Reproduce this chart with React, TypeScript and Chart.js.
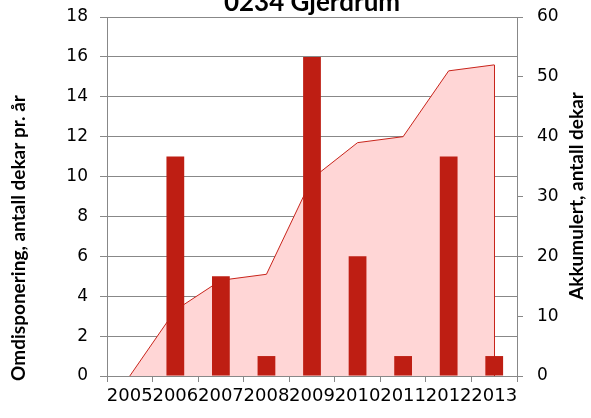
import React, { useEffect, useRef } from 'react';
import { Chart, registerables } from 'chart.js';

Chart.register(...registerables);

const categories = ['2005', '2006', '2007', '2008', '2009', '2010', '2011', '2012', '2013'];
const annualValues = [0, 11, 5, 1, 16, 6, 1, 11, 1];
const accumulatedValues = [0, 11, 16, 17, 33, 39, 40, 51, 52];
const chartTitle = '0234 Gjerdrum';
const leftAxisTitle = 'Omdisponering, antall dekar pr. år';
const rightAxisTitle = 'Akkumulert, antall dekar';

const GRID = '#888888';

const decorPlugin = {
  id: 'decor',
  afterDatasetDraw(chart: any, args: any) {
    if (args.index !== 1) return;
    const meta = chart.getDatasetMeta(1);
    const pts = meta.data;
    const last = pts[pts.length - 1];
    const y0 = chart.scales.y2.getPixelForValue(0);
    const ctx = chart.ctx;
    ctx.save();
    ctx.strokeStyle = '#C8241B';
    ctx.lineWidth = 1;
    ctx.beginPath();
    const x = Math.round(last.x) + 0.5;
    ctx.moveTo(x, last.y);
    ctx.lineTo(x, y0);
    ctx.stroke();
    ctx.restore();
  },
  afterDraw(chart: any) {
    const ctx = chart.ctx;
    const area = chart.chartArea;
    ctx.save();
    ctx.fillStyle = '#000';
    ctx.textAlign = 'center';
    ctx.textBaseline = 'alphabetic';
    ctx.font = 'bold 26px Lato';
    ctx.fillText(chartTitle, (area.left + area.right) / 2, 11);

    ctx.font = 'bold 19px Lato';
    ctx.textBaseline = 'middle';
    ctx.save();
    ctx.translate(19, 238);
    ctx.rotate(-Math.PI / 2);
    ctx.fillText(leftAxisTitle, 0, 0);
    ctx.restore();

    ctx.save();
    ctx.translate(577, 196);
    ctx.rotate(-Math.PI / 2);
    ctx.fillText(rightAxisTitle, 0, 0);
    ctx.restore();
    ctx.restore();
  },
};

export default function App() {
  const ref = useRef<HTMLCanvasElement>(null);

  useEffect(() => {
    if (!ref.current) return;
    const chart = new Chart(ref.current, {
      type: 'bar',
      data: {
        labels: categories,
        datasets: [
          {
            type: 'bar',
            data: annualValues,
            yAxisID: 'y',
            backgroundColor: '#BE1E13',
            barPercentage: 0.39,
            categoryPercentage: 1,
            order: 0,
          },
          {
            type: 'line',
            data: accumulatedValues,
            yAxisID: 'y2',
            borderColor: '#C8241B',
            borderWidth: 1,
            backgroundColor: '#FFD6D6',
            fill: 'origin',
            pointRadius: 0,
            tension: 0,
            order: 1,
          } as any,
        ],
      },
      options: {
        animation: false,
        responsive: true,
        maintainAspectRatio: false,
        layout: { padding: { top: 17, left: 0, right: 0, bottom: 0 } },
        plugins: { legend: { display: false }, tooltip: { enabled: false }, title: { display: false } },
        scales: {
          x: {
            type: 'category',
            offset: true,
            grid: { offset: true, drawOnChartArea: false, tickLength: 6, color: GRID },
            border: { color: GRID },
            ticks: {
              autoSkip: false,
              maxRotation: 0,
              minRotation: 0,
              padding: 4,
              color: '#000',
              font: { family: 'DejaVu Sans', size: 18 },
            },
            afterFit: (s: any) => {
              s.height = 42;
              s.paddingLeft = 0;
              s.paddingRight = 0;
            },
          },
          y: {
            position: 'left',
            min: 0,
            max: 18,
            ticks: { stepSize: 2, padding: 12, color: '#000', font: { family: 'DejaVu Sans', size: 17 } },
            grid: { color: GRID, tickLength: 7 },
            border: { color: GRID },
            afterFit: (s: any) => {
              s.width = 107;
              s.paddingTop = 0;
              s.paddingBottom = 0;
            },
          },
          y2: {
            position: 'right',
            min: 0,
            max: 60,
            ticks: { stepSize: 10, padding: 14, color: '#000', font: { family: 'DejaVu Sans', size: 17 } },
            grid: { drawOnChartArea: false, color: GRID, tickLength: 6 },
            border: { color: GRID },
            afterFit: (s: any) => {
              s.width = 74;
              s.paddingTop = 0;
              s.paddingBottom = 0;
            },
          },
        },
      },
      plugins: [decorPlugin],
    });
    return () => chart.destroy();
  }, []);

  return (
    <div style={{ position: 'fixed', left: 0, top: 0, width: 591, height: 418, background: '#fff' }}>
      <canvas ref={ref} />
    </div>
  );
}
